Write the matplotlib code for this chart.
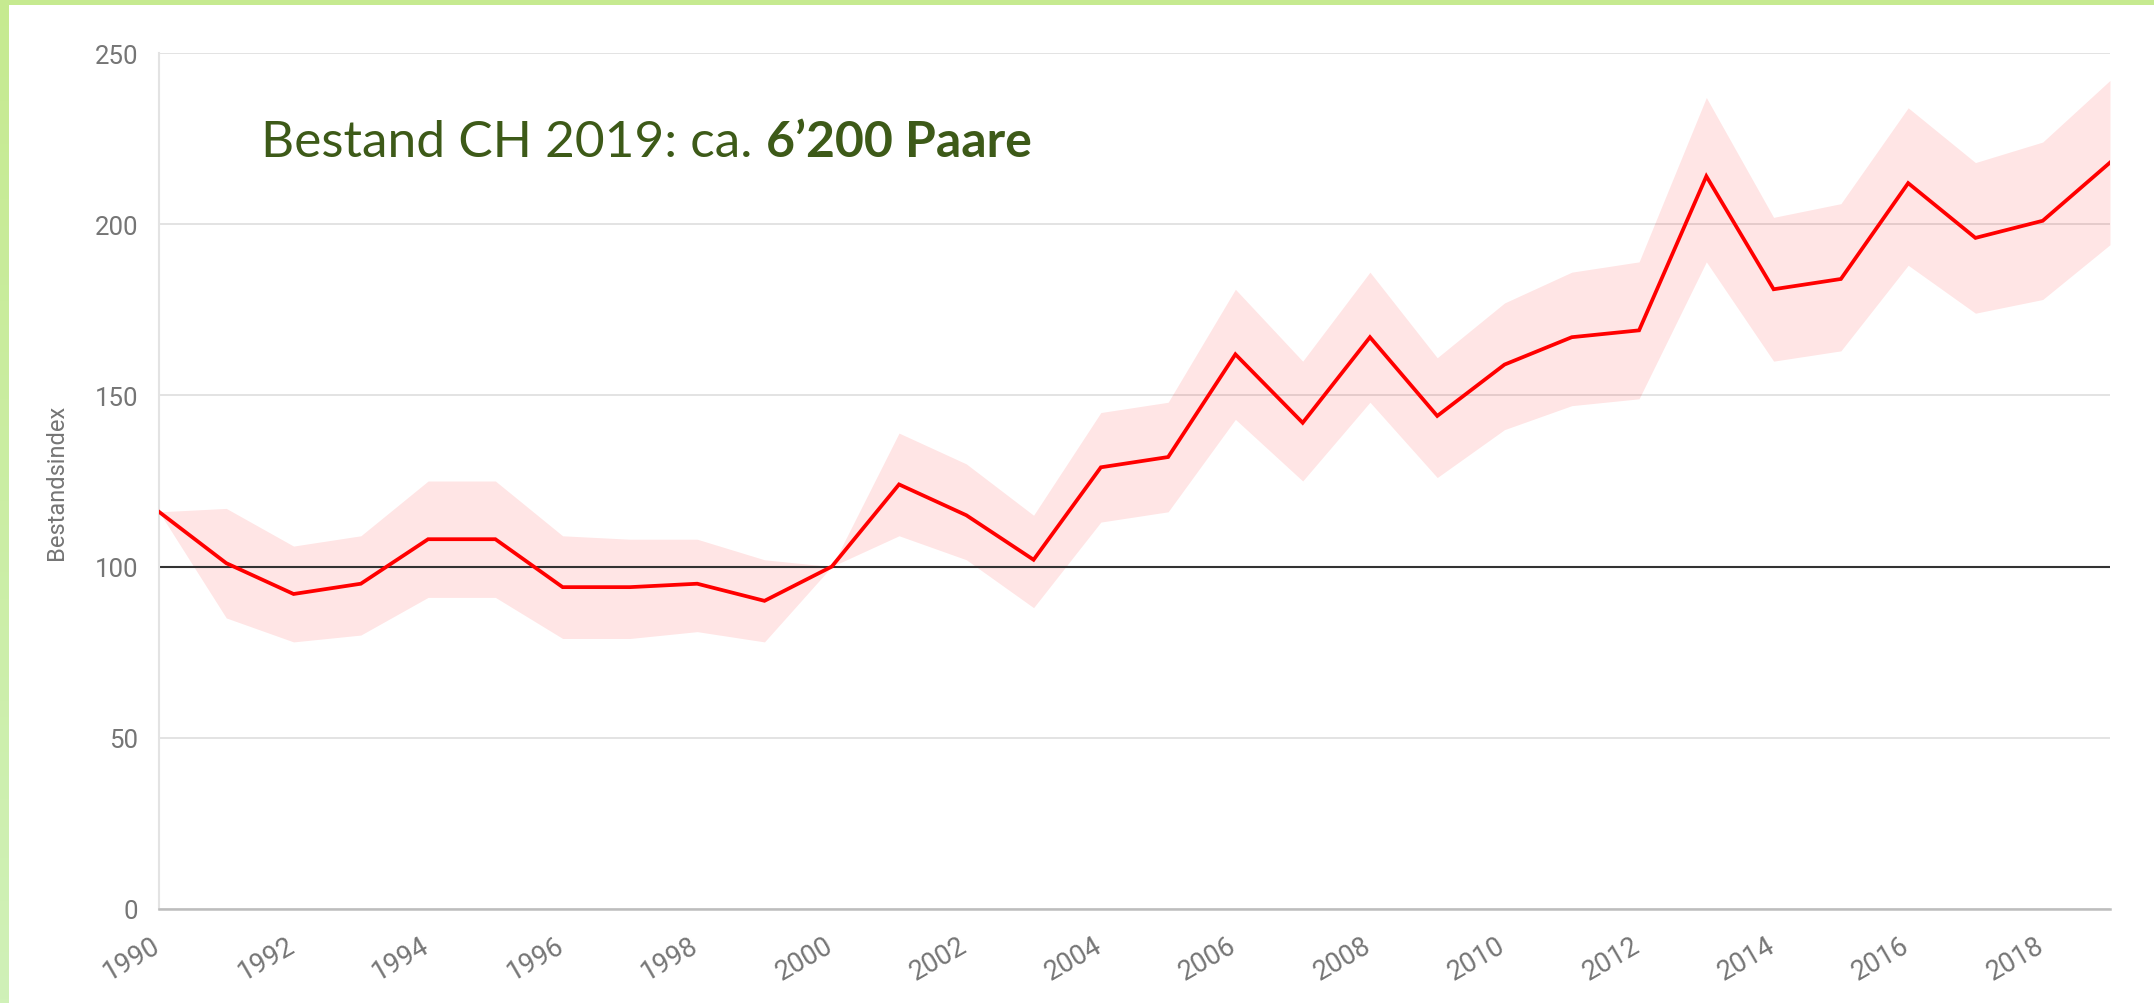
import matplotlib
matplotlib.use("Agg")
import matplotlib.pyplot as plt
import numpy as np
from matplotlib.colors import LinearSegmentedColormap
from matplotlib.transforms import ScaledTranslation

years = list(range(1990, 2020))
index = [116, 101, 92, 95, 108, 108, 94, 94, 95, 90, 100, 124, 115, 102, 129,
         132, 162, 142, 167, 144, 159, 167, 169, 214, 181, 184, 212, 196, 201, 218]
upper = [116, 117, 106, 109, 125, 125, 109, 108, 108, 102, 100, 139, 130, 115, 145,
         148, 181, 160, 186, 161, 177, 186, 189, 237, 202, 206, 234, 218, 224, 242]
lower = [116, 85, 78, 80, 91, 91, 79, 79, 81, 78, 100, 109, 102, 88, 113,
         116, 143, 125, 148, 126, 140, 147, 149, 189, 160, 163, 188, 174, 178, 194]
yticks = [0, 50, 100, 150, 200, 250]
xticks = list(range(1990, 2019, 2))
title_a = "Bestand CH 2019: ca. "
title_b = "6\u2019200 Paare"
ylabel = "Bestandsindex"

W, H = 2154, 1004
fig = plt.figure(figsize=(W / 100, H / 100), dpi=100)
fig.patch.set_facecolor("white")

# green frame (top band and left band)
bg = fig.add_axes([0, 0, 1, 1], zorder=-10)
bg.axis("off")
bg.fill([0, 2145, 2154, 2154, 0], [0, 0, -1, 6, 6], color="#c6ea90", lw=0)
grad = np.linspace(0, 1, 256).reshape(-1, 1)
cmap = LinearSegmentedColormap.from_list("g", ["#c6ea90", "#d0f1b8"])
bg.imshow(grad, cmap=cmap, extent=[0, 9, H, 0], aspect="auto")
bg.set_xlim(0, W)
bg.set_ylim(H, 0)

left, right = 159 / W, 2110 / W
bottom, top = 1 - 910 / H, 1 - 54 / H
ax = fig.add_axes([left, bottom, right - left, top - bottom])
ax.set_xlim(1990, 2019)
ax.set_ylim(0, 250)

for s in ["top", "right"]:
    ax.spines[s].set_visible(False)
ax.spines["left"].set_color("#e3e3e3")
ax.spines["left"].set_linewidth(1.5)
ax.spines["bottom"].set_color("#bdbdbd")
ax.spines["bottom"].set_linewidth(1.8)

ax.set_yticks(yticks)
ax.set_xticks(xticks)
ax.yaxis.grid(True, color="#e3e3e3", lw=1.4, zorder=0)
ax.set_axisbelow(True)
ax.tick_params(axis="y", length=0, colors="#757575", labelsize=18.5, pad=15)
ax.tick_params(axis="x", length=0, colors="#757575", labelsize=19.5, pad=16)
for lab in ax.get_yticklabels() + ax.get_xticklabels():
    lab.set_fontfamily("Roboto")
plt.setp(ax.get_xticklabels(), rotation=30, ha="right", rotation_mode="anchor")

ax.fill_between(years, lower, upper, color="#ff0000", alpha=0.1, lw=0, zorder=1)
ax.axhline(100, color="#333333", lw=1.5, zorder=2)
ax.plot(years, index, color="#ff0000", lw=2.7, zorder=3, solid_joinstyle="miter")

ax.set_ylabel(ylabel, fontfamily="Roboto", fontsize=17, color="#757575", labelpad=19)

# annotation title
base_y = 1 - 157 / H
t1 = fig.text(261 / W, base_y, title_a, fontfamily="Lato", fontweight="normal",
              fontsize=37, color="#3d5a18", ha="left", va="baseline")
fig.canvas.draw()
r = fig.canvas.get_renderer()
bb = t1.get_window_extent(r)
fig.text(bb.x1 / W, base_y, title_b, fontfamily="Lato", fontweight="bold",
         fontsize=36, color="#3d5a18", ha="left", va="baseline")

# nudge rotated x tick labels slightly left, as in the reference
shift = ScaledTranslation(-8 / 100, 0, fig.dpi_scale_trans)
for tick in ax.xaxis.get_major_ticks():
    tick.label1.set_transform(tick.label1.get_transform() + shift)

fig.savefig("out.png", dpi=100, facecolor="white")
